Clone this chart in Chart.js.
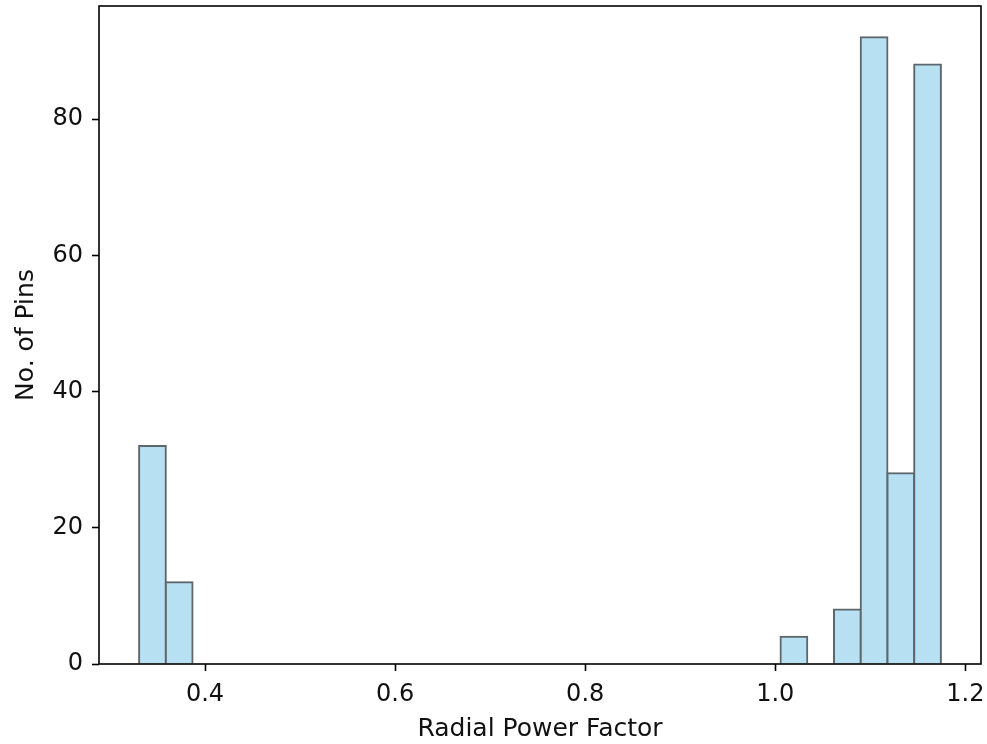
<!DOCTYPE html>
<html>
<head>
<meta charset="utf-8">
<script src="https://cdn.jsdelivr.net/npm/chart.js@4.4.1/dist/chart.umd.min.js"></script>
<style>
  html, body { margin: 0; padding: 0; background: #ffffff; }
  canvas { display: block; }
</style>
</head>
<body>
<canvas id="chart" width="987" height="744"></canvas>
<script>
// Distribution of radial power factor over the fuel pins (30 equal-width bins)
const binRange = [0.3306, 1.1743];
const pinCounts = [
  32, 12,
  0, 0, 0, 0, 0, 0, 0, 0, 0, 0, 0,
  0, 0, 0, 0, 0, 0, 0, 0, 0, 0, 0,
  4, 0, 8, 92, 28, 88
];
const xTickValues = [0.4, 0.6, 0.8, 1.0, 1.2];
const yTickValues = [0, 20, 40, 60, 80];
const xAxisLabel = 'Radial Power Factor';
const yAxisLabel = 'No. of Pins';

const binWidth = (binRange[1] - binRange[0]) / pinCounts.length;
const histPoints = pinCounts.map((count, i) => ({
  x: binRange[0] + (i + 0.5) * binWidth,
  y: count
}));
const dataSpan = binRange[1] - binRange[0];

const TICK_FONT = { family: "'DejaVu Sans', sans-serif", size: 24, lineHeight: 1.2 };
const TITLE_FONT = { family: "'DejaVu Sans', sans-serif", size: 25, lineHeight: 1.2 };
const INK = '#111111';

// axes frame on top of the bars
const framePlugin = {
  id: 'frame',
  afterDatasetsDraw(chart) {
    const { ctx, chartArea: a } = chart;
    ctx.save();
    ctx.strokeStyle = '#000000';
    ctx.lineWidth = 1.6;
    ctx.strokeRect(a.left, a.top, a.right - a.left, a.bottom - a.top);
    ctx.restore();
  }
};

new Chart(document.getElementById('chart'), {
  type: 'bar',
  data: {
    datasets: [{
      data: histPoints,
      backgroundColor: '#B7E1F3',
      borderColor: '#5c666b',
      borderWidth: ctx => (ctx.raw && ctx.raw.y === 0) ? 0 : 2,
      inflateAmount: ctx => (ctx.raw && ctx.raw.y === 0) ? 0 : 1,
      borderSkipped: 'start',
      barPercentage: 1,
      categoryPercentage: 1
    }]
  },
  options: {
    responsive: false,
    devicePixelRatio: 1,
    animation: false,
    layout: { padding: { top: 6, right: 6, left: 0, bottom: 0 } },
    plugins: { legend: { display: false }, tooltip: { enabled: false } },
    scales: {
      x: {
        type: 'linear',
        offset: false,
        min: binRange[0] - 0.05 * dataSpan,
        max: binRange[1] + 0.05 * dataSpan,
        border: { display: false },
        grid: {
          offset: false,
          drawOnChartArea: false,
          drawTicks: true,
          tickLength: 7,
          tickWidth: 1.6,
          tickColor: '#000000',
          color: '#000000'
        },
        ticks: {
          padding: 9,
          color: INK,
          font: TICK_FONT,
          maxRotation: 0,
          callback: v => Number(v).toFixed(1)
        },
        title: {
          display: true,
          text: xAxisLabel,
          color: INK,
          font: TITLE_FONT,
          padding: { top: 0, bottom: 0 }
        },
        afterBuildTicks: s => { s.ticks = xTickValues.map(v => ({ value: v })); },
        afterFit: s => { s.height = 80; s.paddingLeft = 0; s.paddingRight = 0; }
      },
      y: {
        type: 'linear',
        min: 0,
        max: Math.max(...pinCounts) * 1.05,
        border: { display: false },
        grid: {
          drawOnChartArea: false,
          drawTicks: true,
          tickLength: 7,
          tickWidth: 1.6,
          tickColor: '#000000',
          color: '#000000'
        },
        ticks: {
          padding: 9,
          color: INK,
          font: TICK_FONT,
          callback: v => String(v)
        },
        title: {
          display: true,
          text: yAxisLabel,
          color: INK,
          font: TITLE_FONT,
          padding: { top: 11.5, bottom: 0 }
        },
        afterBuildTicks: s => { s.ticks = yTickValues.map(v => ({ value: v })); },
        afterFit: s => { s.width = 99; s.paddingTop = 0; s.paddingBottom = 0; }
      }
    }
  },
  plugins: [framePlugin]
});
</script>
</body>
</html>
